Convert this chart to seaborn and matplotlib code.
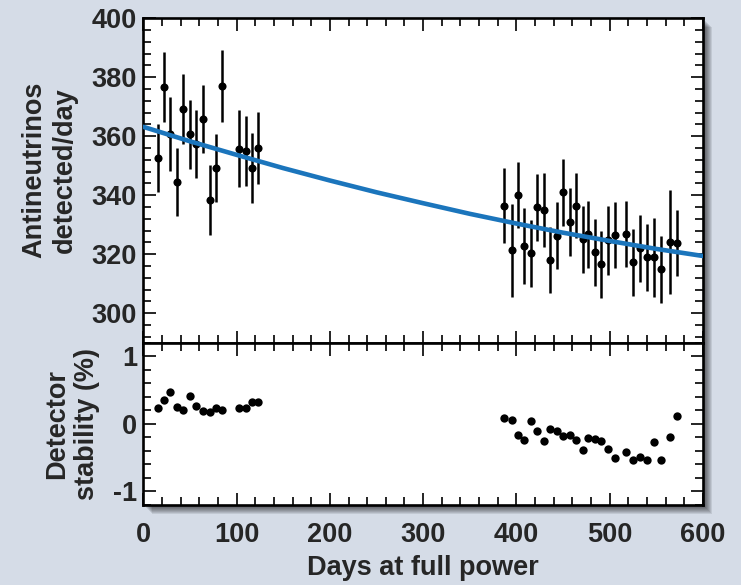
import matplotlib
matplotlib.use("Agg")
import pandas as pd
import matplotlib.pyplot as plt
from matplotlib.patches import Rectangle
from matplotlib.ticker import MultipleLocator
import seaborn as sns

# =========================
# DATA
# =========================
days_early = [16, 22, 29, 36, 43, 50, 57, 64, 71, 78, 84, 103, 110, 117, 123]
rate_early = [352.6, 376.8, 360.8, 344.5, 369.3, 360.6, 357.4, 365.9, 338.3,
              349.2, 377.1, 355.8, 355.1, 349.2, 356.1]
err_early = [11.6, 11.8, 12.6, 11.6, 11.8, 11.8, 11.6, 11.6, 11.8, 11.6,
             12.3, 13.1, 11.9, 11.8, 12.2]
stab_early = [0.24, 0.35, 0.47, 0.25, 0.20, 0.41, 0.26, 0.19, 0.18, 0.24,
              0.20, 0.23, 0.24, 0.32, 0.32]

days_late = [387, 395, 402, 408, 416, 422, 430, 436, 443, 450, 457, 464, 471,
             477, 484, 491, 498, 506, 518, 525, 532, 540, 547, 555, 565, 572]
rate_late = [336.5, 321.4, 340.1, 322.8, 320.3, 335.9, 335.0, 318.0, 326.3,
             341.0, 330.8, 336.5, 325.0, 326.8, 320.6, 316.6, 324.8, 326.6,
             326.9, 317.3, 322.0, 318.9, 318.9, 314.9, 324.1, 323.8]
err_late = [12.8, 15.8, 11.3, 12.8, 11.3, 11.4, 12.4, 11.1, 11.4, 11.3, 11.5,
            11.1, 11.2, 11.4, 11.3, 11.4, 11.7, 11.2, 11.3, 11.3, 11.3, 11.3,
            13.4, 11.3, 17.7, 11.2]
stab_late = [0.09, 0.05, -0.16, -0.24, 0.04, -0.11, -0.26, -0.07, -0.10,
             -0.18, -0.17, -0.24, -0.38, -0.21, -0.22, -0.25, -0.37, -0.51,
             -0.41, -0.53, -0.49, -0.53, -0.27, -0.54, -0.19, 0.12]

fit_days = [0, 50, 100, 150, 200, 250, 300, 350, 400, 450, 500, 550, 600]
fit_rate = [363.2, 358.3, 353.7, 349.2, 345.0, 341.0, 337.3, 333.7, 330.4,
            327.3, 324.5, 321.8, 319.4]

df = pd.DataFrame({
    "days": days_early + days_late,
    "rate": rate_early + rate_late,
    "err": err_early + err_late,
    "stability": stab_early + stab_late,
})
fit = pd.DataFrame({"days": fit_days, "rate": fit_rate})

# =========================
# STYLE
# =========================
bg = "#d5dce7"
sns.set_theme(style="ticks")
plt.rcParams["font.family"] = ["Liberation Sans", "DejaVu Sans"]
plt.rcParams["font.weight"] = "bold"
plt.rcParams["axes.labelweight"] = "bold"
fs = 19.5

fig = plt.figure(figsize=(7.41, 5.85), dpi=100, facecolor=bg)
L, R, T, B, MID = 0.1934, 0.9487, 0.9687, 0.1368, 0.4142
ax1 = fig.add_axes([L, MID, R - L, T - MID])
ax2 = fig.add_axes([L, B, R - L, MID - B])

# drop shadow behind the frame
px_w, px_h = 1 / 741, 1 / 585
for k in range(1, 10):
    fig.patches.append(Rectangle((L + k * px_w, B - k * px_h), R - L, T - B,
                                 transform=fig.transFigure, color="black",
                                 alpha=0.09, lw=0, zorder=-5))

# =========================
# UPPER PANEL
# =========================
ax1.errorbar(df["days"], df["rate"], yerr=df["err"], fmt="none",
             ecolor="black", elinewidth=1.8, capsize=0, zorder=2)
sns.scatterplot(data=df, x="days", y="rate", ax=ax1, color="black",
                s=34, linewidth=0, zorder=3)
sns.lineplot(data=fit, x="days", y="rate", ax=ax1, color="#1b75bc",
             linewidth=3.3, zorder=4)
ax1.set_ylim(290, 400)
ax1.yaxis.set_major_locator(MultipleLocator(20))
ax1.yaxis.set_minor_locator(MultipleLocator(4))
ax1.set_ylabel("Antineutrinos\ndetected/day", fontsize=fs, fontweight="bold")
ax1.yaxis.set_label_coords(-0.117, 0.532)
ax1.set_xlabel("")
ax1.tick_params(axis="x", labelbottom=False)

# =========================
# LOWER PANEL
# =========================
sns.scatterplot(data=df, x="days", y="stability", ax=ax2, color="black",
                s=36, linewidth=0, zorder=3)
ax2.set_ylim(-1.2, 1.2)
ax2.yaxis.set_major_locator(MultipleLocator(1))
ax2.yaxis.set_minor_locator(MultipleLocator(0.2))
ax2.yaxis.set_major_formatter(lambda v, p: f"{v:.0f}")
ax2.set_ylabel("Detector\nstability (%)", fontsize=fs, fontweight="bold")
ax2.yaxis.set_label_coords(-0.077, 0.5)
ax2.set_xlabel("Days at full power", fontsize=fs, fontweight="bold")
ax2.xaxis.set_label_coords(0.5, -0.31)

for ax in (ax1, ax2):
    ax.set_facecolor("white")
    ax.set_xlim(0, 600)
    ax.xaxis.set_major_locator(MultipleLocator(100))
    ax.xaxis.set_minor_locator(MultipleLocator(20))
    ax.tick_params(which="both", direction="in", top=True, right=True,
                   color="black", width=1.2, labelsize=fs)
    ax.tick_params(which="major", length=9)
    ax.tick_params(which="minor", length=5.5)
    ax.tick_params(axis="y", pad=4.5)
    ax.tick_params(axis="x", pad=12)
    for s in ax.spines.values():
        s.set_linewidth(1.9)
        s.set_color("black")
    for lab in ax.get_xticklabels() + ax.get_yticklabels():
        lab.set_fontweight("bold")

fig.savefig("out.png", dpi=100, facecolor=bg)
